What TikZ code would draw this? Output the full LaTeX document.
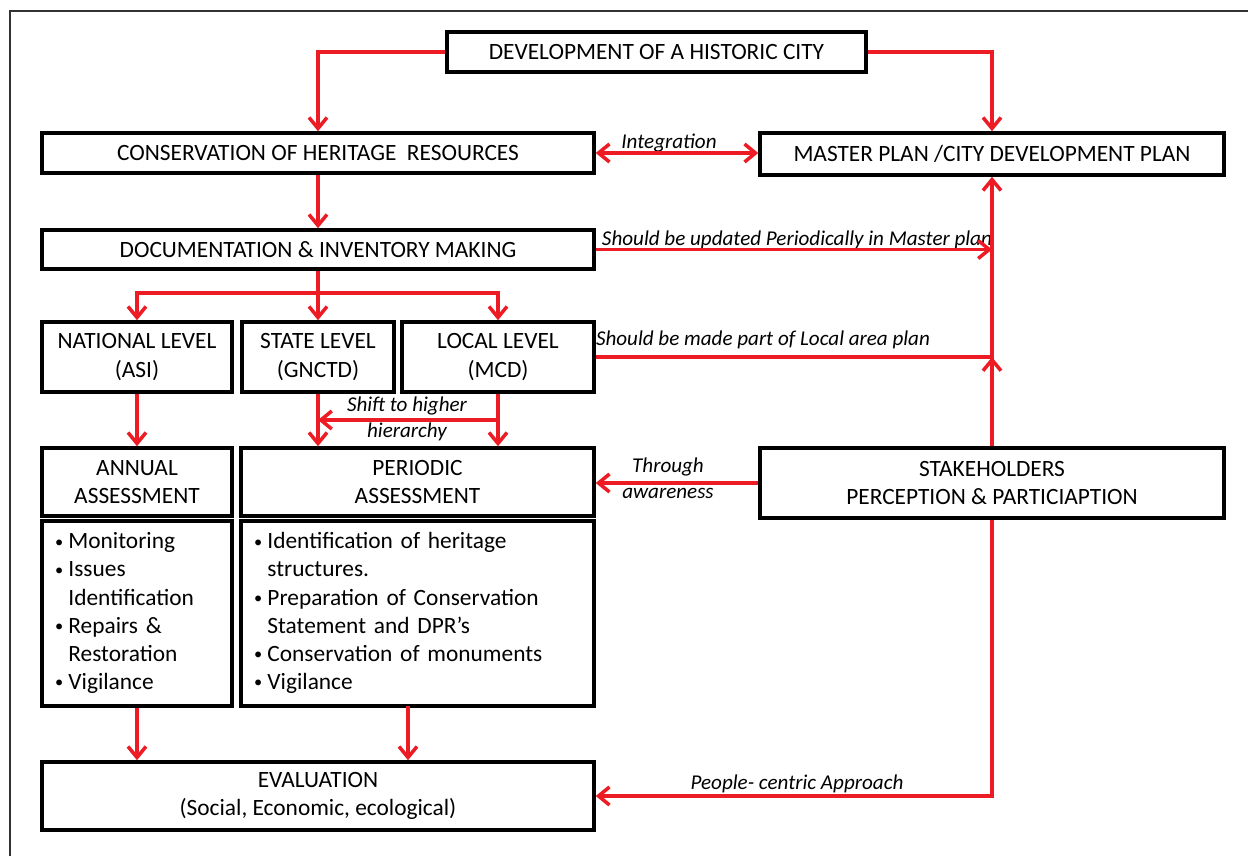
\documentclass[tikz,border=0pt]{standalone}
\usepackage{fontspec}
\setmainfont{Carlito}
\usepackage{tikz}
\usetikzlibrary{positioning,calc,arrows.meta}
\definecolor{arrowred}{RGB}{237,28,36}
\newcommand{\bul}{\raisebox{0.15ex}{\scalebox{0.7}{•}}}
\tikzstyle{block} = [draw, rectangle, line width=2pt, align=center, inner sep=0pt, font=\fontsize{13.3}{16}\selectfont]
\tikzstyle{listbox} = [block, align=left, inner xsep=0.26cm]
\tikzstyle{lbl} = [align=center, inner sep=0pt, font=\fontsize{12}{15}\selectfont\itshape]
\tikzstyle{to} = [-{Straight Barb[length=2.2mm,width=3.6mm]}, arrowred, line width=2pt]

\begin{document}
\begin{tikzpicture}[x=0.02cm, y=-0.02cm]
	\useasboundingbox (0,0) rectangle (1248,856);
	\draw [line width=1.2pt, black!80] (10,856) -- (10,11) -- (1248,11);
	% boxes
	\node (dev) [block, minimum width=8.38cm, minimum height=0.8cm] at (656.5,52) {DEVELOPMENT OF A HISTORIC CITY};
	\node (cons) [block, minimum width=11.04cm, minimum height=0.8cm] at (318,153) {CONSERVATION OF HERITAGE\ \ RESOURCES};
	\node (master) [block, minimum width=9.28cm, minimum height=0.84cm] at (992,154) {MASTER PLAN /CITY DEVELOPMENT PLAN};
	\node (doc) [block, minimum width=11.04cm, minimum height=0.78cm] at (318,249.5) {DOCUMENTATION \& INVENTORY MAKING};
	\node (natl) [block, minimum width=3.8cm, minimum height=1.4cm] at (137,357) {NATIONAL LEVEL\\(ASI)};
	\node (state) [block, minimum width=3.04cm, minimum height=1.4cm] at (318,357) {STATE LEVEL\\(GNCTD)};
	\node (local) [block, minimum width=3.84cm, minimum height=1.4cm] at (498,357) {LOCAL LEVEL\\(MCD)};
	\node (annual) [block, minimum width=3.8cm, minimum height=1.36cm] at (137,482) {ANNUAL\\ASSESSMENT};
	\node (periodic) [block, minimum width=7.06cm, minimum height=1.36cm] at (417.5,482) {PERIODIC\\ASSESSMENT};
	\node (stake) [block, minimum width=9.28cm, minimum height=1.4cm] at (992,483) {STAKEHOLDERS\\PERCEPTION \& PARTICIAPTION};
	\node (annlist) [listbox, text width=3.28cm, minimum height=3.7cm] at (137,613.5) {%
		\begin{tabular}{@{}l@{\hspace{3pt}}l@{}}
		\bul & Monitoring\\
		\bul & Issues\\
		     & Identification\\
		\bul & Repairs \&\\
		     & Restoration\\
		\bul & Vigilance
		\end{tabular}};
	\node (perlist) [listbox, text width=6.54cm, minimum height=3.7cm] at (417.5,613.5) {%
		\begin{tabular}{@{}l@{\hspace{3pt}}l@{}}
		\bul & Identification of heritage\\
		     & structures.\\
		\bul & Preparation of Conservation\\
		     & Statement and DPR’s\\
		\bul & Conservation of monuments\\
		\bul & Vigilance
		\end{tabular}};
	\node (eval) [block, minimum width=11.04cm, minimum height=1.36cm] at (318,796) {EVALUATION\\(Social, Economic, ecological)};
	% labels
	\node (intlbl) [lbl] at (669,143) {Integration};
	\node (updlbl) [lbl] at (797,240) {Should be updated Periodically in Master plan};
	\node (loclbl) [lbl] at (763,340) {Should be made part of Local area plan};
	\node (shiftlbl) [lbl] at (407,419) {Shift to higher\\hierarchy};
	\node (thrlbl) [lbl] at (668,478) {Through\\awareness};
	\node (pplbl) [lbl] at (797,784) {People- centric Approach};
	% helper points
	\coordinate (split) at (318,293);
	\coordinate (shiftR) at (498,420);
	\coordinate (shiftL) at (318,420);
	\coordinate (perout) at (408,706);
	% arrows
	\draw [to] (dev.west) -| (cons.north);
	\draw [to] (dev.east) -| (master.north);
	\draw [to, {Straight Barb[length=2.2mm,width=3.6mm]}-{Straight Barb[length=2.2mm,width=3.6mm]}] (cons.east) -- (cons.east -| master.west);
	\draw [to] (cons.south) -- (doc.north);
	\draw [to] (doc.east) -- (doc.east -| master.south);
	\draw [to] (local.east) -- (local.east -| master.south) -- (master.south);
	\draw [to] (stake.north) -- (local.east -| stake.north);
	\draw [to] (doc.south) -- (state.north);
	\draw [to] (split) -| (natl.north);
	\draw [to] (split) -| (local.north);
	\draw [to] (natl.south) -- (annual.north);
	\draw [to] (state.south) -- (state.south |- periodic.north);
	\draw [to] (local.south) -- (local.south |- periodic.north);
	\draw [to] (shiftR) -- (shiftL);
	\draw [to] (stake.west) -- (stake.west -| periodic.east);
	\draw [to] (annlist.south) -- (eval.north -| annlist.south);
	\draw [to] (perout) -- (perout |- eval.north);
	\draw [to] (stake.south) |- (eval.east);
\end{tikzpicture}
\end{document}
